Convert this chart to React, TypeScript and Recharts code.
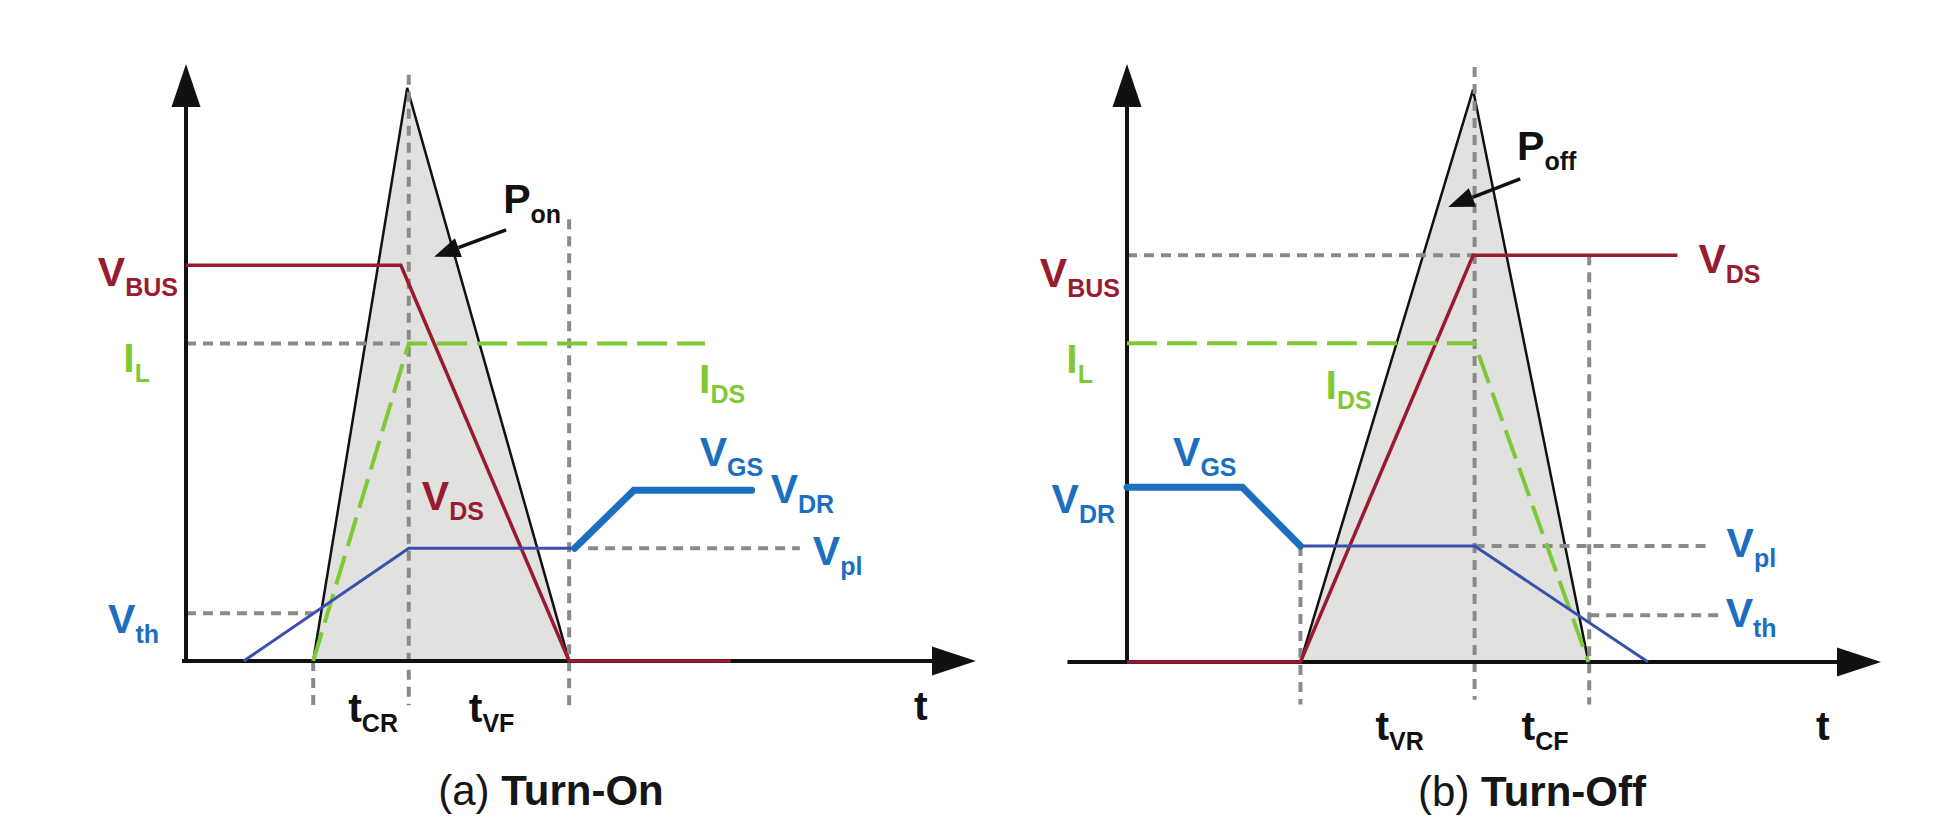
import { ComposedChart, Line, Area, XAxis, YAxis, ReferenceDot } from "recharts";

const RED = "#981b30";
const GREEN = "#7fc836";
const BLUE = "#1c6fc0";
const INDIGO = "#3b4fae";
const GRAY = "#8a8a8a";
const INK = "#111111";
const FILL = "#e1e1df";
const FONT = "'Liberation Sans', Arial, Helvetica, sans-serif";

// time runs 0..100 along the t axis, levels 0..100 up the vertical axis

// (a) turn-on
const ON_VBUS = 66.3;
const ON_IL = 53.2;
const ON_VPL = 18.9;
const ON_VTH = 8.0;
const ON_VDR = 28.6;
const onPowerT = [16.1, 28.0, 48.5];
const onPowerY = [0, 96, 0];
const onVdsT = [0, 27.2, 48.5, 69.0];
const onVdsY = [ON_VBUS, ON_VBUS, 0, 0];
const onIdsT = [16.1, 28.2, 65.7];
const onIdsY = [0, ON_IL, ON_IL];
const onVgsT = [7.3, 28.2, 49.2];
const onVgsY = [0, ON_VPL, ON_VPL];
const onVdrT = [49.2, 56.7, 71.6];
const onVdrY = [ON_VPL, ON_VDR, ON_VDR];
const onGuides = [
  [0, ON_IL, 28.2, ON_IL],
  [0, ON_VTH, 16.1, ON_VTH],
  [50.9, ON_VPL, 77.7, ON_VPL],
  [16.1, 0, 16.1, -7.4],
  [28.2, 98.2, 28.2, -7.4],
  [48.5, 74.0, 48.5, -7.4],
];

// (b) turn-off
const OFF_VBUS = 68;
const OFF_IL = 53.3;
const OFF_VPL = 19.4;
const OFF_VTH = 7.8;
const OFF_VDR = 29.2;
const offPowerT = [23.0, 45.9, 61.2];
const offPowerY = [0, 95.7, 0];
const offVdsT = [0, 23.0, 45.9, 73.0];
const offVdsY = [0, 0, OFF_VBUS, OFF_VBUS];
const offIdsT = [0, 46.1, 61.2];
const offIdsY = [OFF_IL, OFF_IL, 0];
const offVdrT = [0, 15.3, 23.0];
const offVdrY = [OFF_VDR, OFF_VDR, OFF_VPL];
const offVgsT = [23.0, 46.1, 69.1];
const offVgsY = [OFF_VPL, OFF_VPL, 0];
const offGuides = [
  [0, OFF_VBUS, 46.1, OFF_VBUS],
  [46.1, OFF_VPL, 77.0, OFF_VPL],
  [61.3, OFF_VTH, 79.0, OFF_VTH],
  [23.0, OFF_VPL, 23.0, -7.1],
  [46.1, 99.5, 46.1, -6.3],
  [61.3, OFF_VBUS, 61.3, -7.1],
];

type Pt = { t: number; v: number };
const pts = (t: number[], v: number[]): Pt[] => t.map((x, i) => ({ t: x, v: v[i] }));

interface Lbl {
  t: number;
  v: number;
  main: string;
  sub?: string;
  color: string;
  dx: number;
  dy: number;
  end?: boolean;
}

const labelShape = (l: Lbl) => (p: any) => (
  <text
    x={p.cx + l.dx}
    y={p.cy + l.dy}
    fill={l.color}
    fontFamily={FONT}
    fontWeight={700}
    textAnchor={l.end ? "end" : "start"}
  >
    <tspan fontSize={41}>{l.main}</tspan>
    {l.sub ? (
      <tspan fontSize={25} dy={10}>
        {l.sub}
      </tspan>
    ) : null}
  </text>
);

const xArrow = (p: any) => (
  <polygon
    points={`${p.cx},${p.cy} ${p.cx - 44},${p.cy - 14.5} ${p.cx - 44},${p.cy + 14.5}`}
    fill={INK}
  />
);

const yArrow = (p: any) => (
  <polygon
    points={`${p.cx},${p.cy} ${p.cx - 14.5},${p.cy + 43} ${p.cx + 14.5},${p.cy + 43}`}
    fill={INK}
  />
);

const pointer = (tx: number, ty: number) => (p: any) => {
  const len = Math.hypot(tx, ty);
  const ux = -tx / len;
  const uy = -ty / len;
  const bx = p.cx - ux * 26;
  const by = p.cy - uy * 26;
  const nx = -uy;
  const ny = ux;
  return (
    <g>
      <line x1={p.cx + tx} y1={p.cy + ty} x2={bx} y2={by} stroke={INK} strokeWidth={3.5} />
      <polygon
        points={`${p.cx},${p.cy} ${bx + nx * 10},${by + ny * 10} ${bx - nx * 10},${by - ny * 10}`}
        fill={INK}
      />
    </g>
  );
};

const captionShape = (letter: string, title: string, dx: number, dy: number) => (p: any) => (
  <text
    x={p.cx + dx}
    y={p.cy + dy}
    textAnchor="middle"
    fontFamily={FONT}
    fontSize={42}
    fill="#161616"
  >
    <tspan>{`(${letter}) `}</tspan>
    <tspan fontWeight={700}>{title}</tspan>
  </text>
);

interface PanelProps {
  width: number;
  margin: { top: number; right: number; bottom: number; left: number };
  power: Pt[];
  vds: Pt[];
  ids: Pt[];
  vgs: Pt[];
  vdr: Pt[];
  guides: number[][];
  axisStart: number;
  labels: Lbl[];
  tip: { t: number; v: number; tx: number; ty: number };
  caption: { letter: string; title: string; t: number; dx: number; dy: number };
}

function Panel(props: PanelProps) {
  const { width, margin, power, vds, ids, vgs, vdr, guides, axisStart, labels, tip, caption } = props;
  return (
    <ComposedChart width={width} height={837} margin={margin}>
      <XAxis type="number" dataKey="t" domain={[-8, 100]} allowDataOverflow hide />
      <YAxis type="number" domain={[-8, 100]} allowDataOverflow hide />
      <Area
        data={power}
        dataKey="v"
        type="linear"
        baseValue={0}
        stroke={INK}
        strokeWidth={2.5}
        fill={FILL}
        fillOpacity={1}
        dot={false}
        activeDot={false}
        isAnimationActive={false}
      />
      {guides.map((g, i) => (
        <Line
          key={`g${i}`}
          data={[
            { t: g[0], v: g[1] },
            { t: g[2], v: g[3] },
          ]}
          dataKey="v"
          type="linear"
          stroke={GRAY}
          strokeWidth={4}
          strokeDasharray="10 7"
          dot={false}
          activeDot={false}
          isAnimationActive={false}
        />
      ))}
      <Line
        data={[
          { t: axisStart, v: 0 },
          { t: 95, v: 0 },
        ]}
        dataKey="v"
        type="linear"
        stroke={INK}
        strokeWidth={4}
        dot={false}
        activeDot={false}
        isAnimationActive={false}
      />
      <Line
        data={[
          { t: 0, v: 0 },
          { t: 0, v: 93 },
        ]}
        dataKey="v"
        type="linear"
        stroke={INK}
        strokeWidth={4}
        dot={false}
        activeDot={false}
        isAnimationActive={false}
      />
      <Line
        data={vds}
        dataKey="v"
        type="linear"
        stroke={RED}
        strokeWidth={3.5}
        dot={false}
        activeDot={false}
        isAnimationActive={false}
      />
      <Line
        data={ids}
        dataKey="v"
        type="linear"
        stroke={GREEN}
        strokeWidth={4}
        strokeDasharray="30 10"
        dot={false}
        activeDot={false}
        isAnimationActive={false}
      />
      <Line
        data={vgs}
        dataKey="v"
        type="linear"
        stroke={INDIGO}
        strokeWidth={3}
        dot={false}
        activeDot={false}
        isAnimationActive={false}
      />
      <Line
        data={vdr}
        dataKey="v"
        type="linear"
        stroke={BLUE}
        strokeWidth={7}
        strokeLinecap="round"
        dot={false}
        activeDot={false}
        isAnimationActive={false}
      />
      <ReferenceDot x={100} y={0} r={1} shape={xArrow} />
      <ReferenceDot x={0} y={100} r={1} shape={yArrow} />
      <ReferenceDot x={tip.t} y={tip.v} r={1} shape={pointer(tip.tx, tip.ty)} />
      {labels.map((l, i) => (
        <ReferenceDot key={`l${i}`} x={l.t} y={l.v} r={1} shape={labelShape(l)} />
      ))}
      <ReferenceDot
        x={caption.t}
        y={0}
        r={1}
        shape={captionShape(caption.letter, caption.title, caption.dx, caption.dy)}
      />
    </ComposedChart>
  );
}

const onLabels: Lbl[] = [
  { t: 0, v: ON_VBUS, main: "V", sub: "BUS", color: RED, dx: -8, dy: 21, end: true },
  { t: 0, v: ON_IL, main: "I", sub: "L", color: GREEN, dx: -36, dy: 29, end: true },
  { t: 0, v: ON_VTH, main: "V", sub: "th", color: BLUE, dx: -27, dy: 20, end: true },
  { t: 16.1, v: 0, main: "t", sub: "CR", color: INK, dx: 35, dy: 61 },
  { t: 28.2, v: 0, main: "t", sub: "VF", color: INK, dx: 60, dy: 61 },
  { t: 100, v: 0, main: "t", color: INK, dx: -62, dy: 59 },
  { t: 28.2, v: ON_VPL, main: "V", sub: "DS", color: RED, dx: 13, dy: -38 },
  { t: 65.7, v: ON_IL, main: "I", sub: "DS", color: GREEN, dx: -6, dy: 50 },
  { t: 71.6, v: ON_VDR, main: "V", sub: "GS", color: BLUE, dx: -52, dy: -24 },
  { t: 71.6, v: ON_VDR, main: "V", sub: "DR", color: BLUE, dx: 19, dy: 13 },
  { t: 77.7, v: ON_VPL, main: "V", sub: "pl", color: BLUE, dx: 13, dy: 17 },
  { t: 28.0, v: 96, main: "P", sub: "on", color: INK, dx: 96, dy: 125 },
];

const offLabels: Lbl[] = [
  { t: 0, v: OFF_VBUS, main: "V", sub: "BUS", color: RED, dx: -7, dy: 32, end: true },
  { t: 0, v: OFF_IL, main: "I", sub: "L", color: GREEN, dx: -34, dy: 30, end: true },
  { t: 0, v: OFF_VDR, main: "V", sub: "DR", color: BLUE, dx: -12, dy: 26, end: true },
  { t: 0, v: OFF_VDR, main: "V", sub: "GS", color: BLUE, dx: 46, dy: -21 },
  { t: 46.1, v: OFF_IL, main: "I", sub: "DS", color: GREEN, dx: -149, dy: 56 },
  { t: 73.0, v: OFF_VBUS, main: "V", sub: "DS", color: RED, dx: 21, dy: 18 },
  { t: 77.0, v: OFF_VPL, main: "V", sub: "pl", color: BLUE, dx: 19, dy: 11 },
  { t: 79.0, v: OFF_VTH, main: "V", sub: "th", color: BLUE, dx: 3, dy: 12 },
  { t: 23.0, v: 0, main: "t", sub: "VR", color: INK, dx: 75, dy: 78 },
  { t: 46.1, v: 0, main: "t", sub: "CF", color: INK, dx: 47, dy: 78 },
  { t: 100, v: 0, main: "t", color: INK, dx: -65, dy: 78 },
  { t: 45.9, v: 95.7, main: "P", sub: "off", color: INK, dx: 44, dy: 70 },
];

export default function App() {
  return (
    <div
      style={{
        position: "absolute",
        left: 0,
        top: 0,
        width: 1959,
        height: 837,
        display: "flex",
        background: "#ffffff",
      }}
    >
      <Panel
        width={980}
        margin={{ top: 64, right: 4, bottom: 128.2, left: 122.8 }}
        power={pts(onPowerT, onPowerY)}
        vds={pts(onVdsT, onVdsY)}
        ids={pts(onIdsT, onIdsY)}
        vgs={pts(onVgsT, onVgsY)}
        vdr={pts(onVdrT, onVdrY)}
        guides={onGuides}
        axisStart={-0.5}
        labels={onLabels}
        tip={{ t: 31.4, v: 67.7, tx: 72, ty: -27 }}
        caption={{ letter: "a", title: "Turn-On", t: 50, dx: -30, dy: 144 }}
      />
      <Panel
        width={979}
        margin={{ top: 64, right: 78, bottom: 127.2, left: 86.7 }}
        power={pts(offPowerT, offPowerY)}
        vds={pts(offVdsT, offVdsY)}
        ids={pts(offIdsT, offIdsY)}
        vgs={pts(offVgsT, offVgsY)}
        vdr={pts(offVdrT, offVdrY)}
        guides={offGuides}
        axisStart={-7.9}
        labels={offLabels}
        tip={{ t: 42.6, v: 76.1, tx: 72, ty: -28 }}
        caption={{ letter: "b", title: "Turn-Off", t: 50, dx: 28, dy: 144 }}
      />
    </div>
  );
}
